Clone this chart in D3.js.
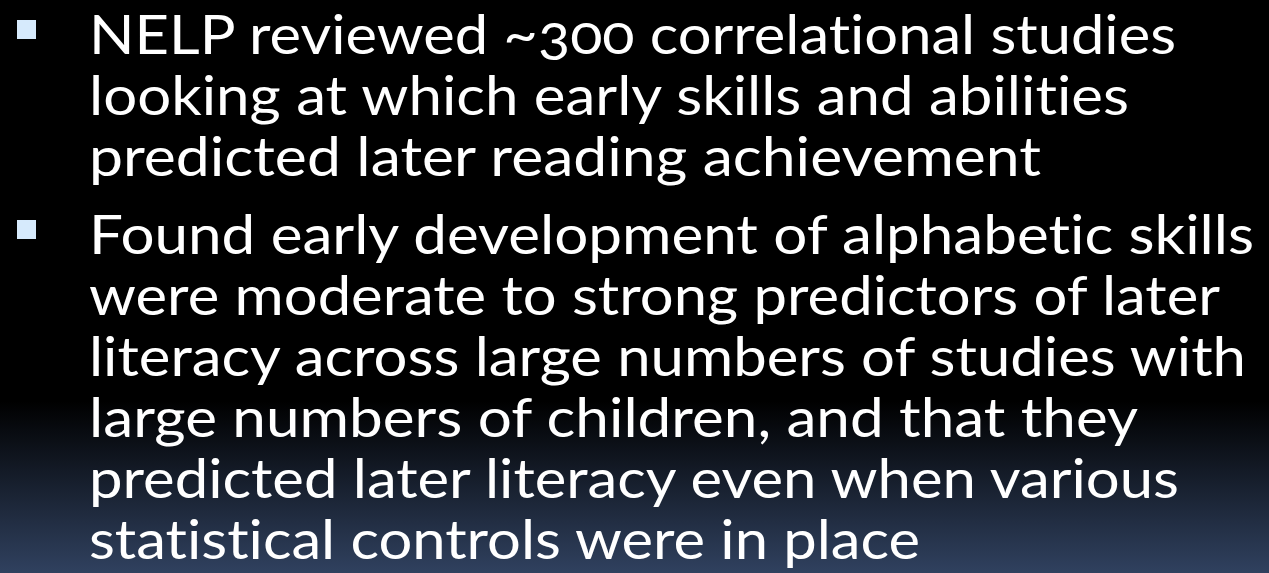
<!DOCTYPE html>
<html>
<head>
<meta charset="utf-8">
<script src="https://cdn.jsdelivr.net/npm/d3@7"></script>
<style>
  html, body { margin: 0; padding: 0; background: #000; }
  svg { display: block; }
</style>
</head>
<body>
<svg id="slide" width="1269" height="573"></svg>
<script>
// Bullet paragraphs, each as its wrapped lines
const bullet1Lines = [
  "NELP reviewed ~300 correlational studies",
  "looking at which early skills and abilities",
  "predicted later reading achievement"
];
const bullet2Lines = [
  "Found early development of alphabetic skills",
  "were moderate to strong predictors of later",
  "literacy across large numbers of studies with",
  "large numbers of children, and that they",
  "predicted later literacy even when various",
  "statistical controls were in place"
];
// measured right edge (px) of each rendered line in the reference
const bullet1Ends = [1178, 1131, 1043];
const bullet2Ends = [1256, 1222, 1248, 1140, 1181, 922];

const W = 1269, H = 573;
const svg = d3.select("#slide");

// background gradient
const defs = svg.append("defs");
const grad = defs.append("linearGradient").attr("id", "bg")
  .attr("x1", 0).attr("y1", 0).attr("x2", 0).attr("y2", 1);
grad.append("stop").attr("offset", "0%").attr("stop-color", "#000000");
grad.append("stop").attr("offset", "70%").attr("stop-color", "#000000");
grad.append("stop").attr("offset", "100%").attr("stop-color", "#30415f");
svg.append("rect").attr("width", W).attr("height", H).attr("fill", "url(#bg)");

const textX = 89;
const fontSize = 55;
const lineStep = 61;

// baseline scales (line index -> y)
const y1 = d3.scaleLinear().domain([0, 1]).range([54, 54 + lineStep]);
const y2 = d3.scaleLinear().domain([0, 1]).range([254, 254 + lineStep]);

const paragraphs = [
  { lines: bullet1Lines, ends: bullet1Ends, y: y1 },
  { lines: bullet2Lines, ends: bullet2Ends, y: y2 }
];

paragraphs.forEach((p, k) => {
  // bullet square
  svg.append("rect")
    .attr("x", 17).attr("y", k === 0 ? 20 : 220)
    .attr("width", 19).attr("height", 19)
    .attr("fill", "#d6eafc");
  svg.append("g").selectAll("text")
    .data(p.lines)
    .join("text")
    .attr("x", textX)
    .attr("y", (d, i) => p.y(i))
    .attr("fill", "#ffffff")
    .attr("font-family", "Lato, 'Open Sans', sans-serif")
    .attr("font-size", fontSize)
    .style("font-variant-numeric", "oldstyle-nums")
    .style("font-variant-ligatures", "none")
    .style("font-feature-settings", "'liga' 0, 'clig' 0, 'dlig' 0, 'onum' 1")
    .attr("textLength", (d, i) => p.ends[i] - textX - 2)
    .attr("lengthAdjust", "spacingAndGlyphs")
    .text(d => d);
});
</script>
</body>
</html>
